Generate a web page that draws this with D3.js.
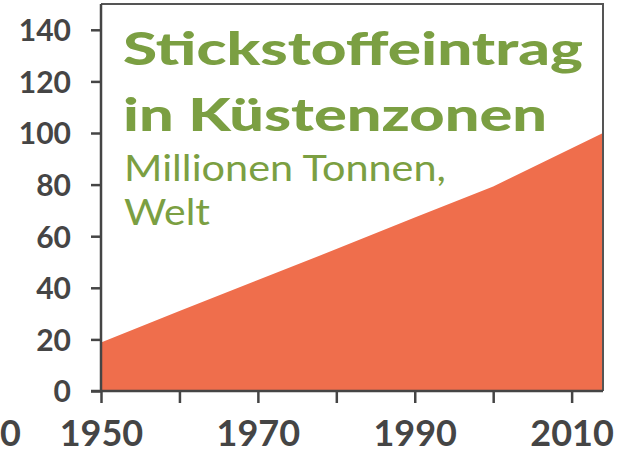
<!DOCTYPE html>
<html>
<head>
<meta charset="utf-8">
<script src="https://cdn.jsdelivr.net/npm/d3@7"></script>
<style>
  html, body { margin: 0; padding: 0; background: #fff; }
  svg { display: block; }
</style>
</head>
<body>
<svg id="chart" width="627" height="454"></svg>
<script>
// Nitrogen input into coastal zones, million tonnes, world
const years  = [1950, 1960, 1970, 1980, 1990, 2000, 2014];
const values = [18.8, 31.0, 43.0, 55.0, 67.2, 79.3, 100.0];

const yTickValues = [0, 20, 40, 60, 80, 100, 120, 140];
const xTickValues = [1950, 1960, 1970, 1980, 1990, 2000, 2010];
const xLabelValues = [1950, 1970, 1990, 2010];

const titleLines = ["Stickstoffeintrag", "in Küstenzonen"];
const subtitleLines = ["Millionen Tonnen,", "Welt"];

const green = "#7b9f42";
const orange = "#ef6e4c";
const axisColor = "#454545";

const svg = d3.select("#chart");
const plot = { left: 101, right: 603, top: 4, bottom: 391 };

const x = d3.scaleLinear().domain([1950, 2014]).range([plot.left, plot.right]);
const y = d3.scaleLinear().domain([0, 150]).range([plot.bottom, plot.top]);

const data = years.map((yr, i) => ({ year: yr, value: values[i] }));

// filled area
const area = d3.area()
  .x(d => x(d.year))
  .y0(y(0))
  .y1(d => y(d.value));

svg.append("path")
  .datum(data)
  .attr("d", area)
  .attr("fill", orange);

// frame (top and right edges)
svg.append("path")
  .attr("d", `M${plot.left},${plot.top}H${plot.right}V${plot.bottom}`)
  .attr("fill", "none")
  .attr("stroke", "#555")
  .attr("stroke-width", 2);

// y axis
const yAxis = svg.append("g")
  .attr("transform", `translate(${plot.left},0)`)
  .call(d3.axisLeft(y).tickValues(yTickValues).tickSize(10).tickPadding(20).tickSizeOuter(0));
yAxis.select(".domain").attr("stroke", axisColor).attr("stroke-width", 2.5)
  .attr("d", `M0,${plot.top}V${plot.bottom}`);
yAxis.selectAll(".tick line").attr("stroke", axisColor).attr("stroke-width", 2.5);
yAxis.selectAll(".tick text")
  .attr("fill", axisColor)
  .attr("font-family", "Lato, sans-serif")
  .attr("font-weight", 700)
  .attr("font-size", 30)
  .attr("dy", "0.36em");

// x axis
const xAxis = svg.append("g")
  .attr("transform", `translate(0,${plot.bottom})`)
  .call(d3.axisBottom(x).tickValues(xTickValues).tickSize(12).tickPadding(17).tickSizeOuter(0)
    .tickFormat(d => xLabelValues.includes(d) ? d3.format("d")(d) : ""));
xAxis.select(".domain").attr("stroke", axisColor).attr("stroke-width", 2.5)
  .attr("d", `M${plot.left - 10},0H${plot.right}`);
xAxis.selectAll(".tick line").attr("stroke", axisColor).attr("stroke-width", 2.5);
xAxis.selectAll(".tick text")
  .attr("fill", axisColor)
  .attr("font-family", "Lato, sans-serif")
  .attr("font-weight", 700)
  .attr("font-size", 36);

// partially cut-off label at the far left of the time axis
svg.append("text")
  .attr("x", 0)
  .attr("y", 446)
  .attr("fill", axisColor)
  .attr("font-family", "Lato, sans-serif")
  .attr("font-weight", 700)
  .attr("font-size", 36)
  .text("0");

// title block
const titleSpec = [
  { text: titleLines[0], y: 65, w: 460 },
  { text: titleLines[1], y: 131, w: 424 }
];
titleSpec.forEach(t => {
  svg.append("text")
    .attr("x", 123)
    .attr("y", t.y)
    .attr("fill", green)
    .attr("font-family", "Lato, sans-serif")
    .attr("font-weight", 900)
    .attr("font-size", 46)
    .attr("textLength", t.w)
    .attr("lengthAdjust", "spacingAndGlyphs")
    .text(t.text);
});

const subSpec = [
  { text: subtitleLines[0], y: 181, w: 322 },
  { text: subtitleLines[1], y: 225, w: 86 }
];
subSpec.forEach(t => {
  svg.append("text")
    .attr("x", 124)
    .attr("y", t.y)
    .attr("fill", green)
    .attr("font-family", "Lato, sans-serif")
    .attr("font-weight", 400)
    .attr("font-size", 36)
    .attr("textLength", t.w)
    .attr("lengthAdjust", "spacingAndGlyphs")
    .text(t.text);
});
</script>
</body>
</html>
